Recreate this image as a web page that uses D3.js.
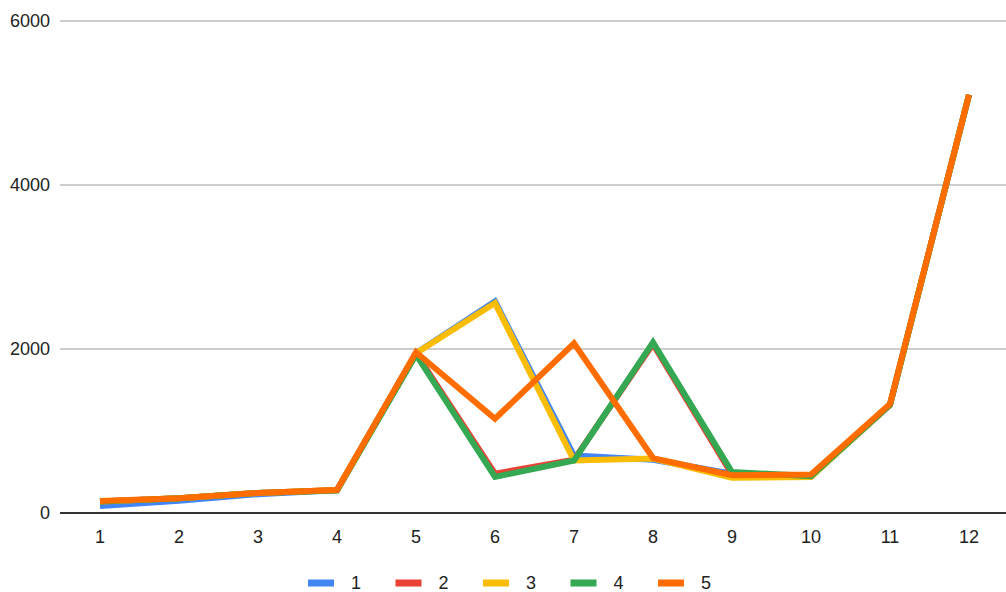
<!DOCTYPE html>
<html>
<head>
<meta charset="utf-8">
<script src="https://cdn.jsdelivr.net/npm/d3@7"></script>
<style>
  html, body { margin: 0; padding: 0; background: #fff; }
  svg { display: block; font-family: Arial, "Liberation Sans", sans-serif; }
</style>
</head>
<body>
<svg id="chart" width="1006" height="592"></svg>
<script>
const categories = [1, 2, 3, 4, 5, 6, 7, 8, 9, 10, 11, 12];
const seriesNames = ["1", "2", "3", "4", "5"];
const series1 = [85, 150, 230, 280, 1950, 2580, 700, 650, 480, 450, 1320, 5100];
const series2 = [140, 180, 245, 280, 1950, 480, 650, 2060, 470, 450, 1320, 5100];
const series3 = [140, 180, 245, 280, 1950, 2560, 640, 665, 430, 440, 1320, 5100];
const series4 = [140, 180, 245, 275, 1930, 440, 640, 2080, 500, 450, 1320, 5100];
const series5 = [146, 180, 245, 280, 1960, 1150, 2070, 670, 460, 470, 1330, 5100];
const yTicks = [0, 2000, 4000, 6000];
const colors = ["#4285f4", "#ea4335", "#fbbc04", "#34a853", "#ff6d01"];

const allSeries = [series1, series2, series3, series4, series5];

const svg = d3.select("#chart");
const plotLeft = 60, plotRight = 1006;

const x = d3.scaleBand().domain(categories).range([60.5, 1008.5]);
const cx = d => x(d) + x.bandwidth() / 2;
const y = d3.scaleLinear().domain([0, 6000]).range([513, 21]);

// gridlines
svg.append("g").selectAll("line")
  .data(yTicks.filter(t => t !== 0))
  .join("line")
  .attr("x1", plotLeft).attr("x2", plotRight)
  .attr("y1", d => y(d)).attr("y2", d => y(d))
  .attr("stroke", "#cccccc").attr("stroke-width", 2);

// y labels
svg.append("g").selectAll("text")
  .data(yTicks)
  .join("text")
  .attr("x", 50)
  .attr("y", d => y(d))
  .attr("dy", "0.36em")
  .attr("text-anchor", "end")
  .attr("font-size", 18)
  .attr("fill", "#222")
  .text(d => d);

// x labels
svg.append("g").selectAll("text")
  .data(categories)
  .join("text")
  .attr("x", d => cx(d))
  .attr("y", 543)
  .attr("text-anchor", "middle")
  .attr("font-size", 18)
  .attr("fill", "#222")
  .text(d => d);

// lines
const line = d3.line()
  .x((d, i) => cx(categories[i]))
  .y(d => y(d));

svg.append("g").selectAll("path")
  .data(allSeries)
  .join("path")
  .attr("d", d => line(d))
  .attr("fill", "none")
  .attr("stroke", (d, i) => colors[i])
  .attr("stroke-width", 6)
  .attr("stroke-linejoin", "miter")
  .attr("stroke-linecap", "butt");

// baseline
svg.append("line")
  .attr("x1", plotLeft).attr("x2", plotRight)
  .attr("y1", y(0)).attr("y2", y(0))
  .attr("stroke", "#333333").attr("stroke-width", 2);

// legend
const legend = svg.append("g");
const legendStart = 308, legendStep = 87.5;
const items = legend.selectAll("g")
  .data(seriesNames)
  .join("g")
  .attr("transform", (d, i) => `translate(${legendStart + i * legendStep},583)`);
items.append("rect")
  .attr("x", 0).attr("y", -3.5)
  .attr("width", 26).attr("height", 7)
  .attr("fill", (d, i) => colors[i]);
items.append("text")
  .attr("x", 43)
  .attr("y", 0)
  .attr("dy", "0.36em")
  .attr("font-size", 18)
  .attr("fill", "#222")
  .text(d => d);
</script>
</body>
</html>
